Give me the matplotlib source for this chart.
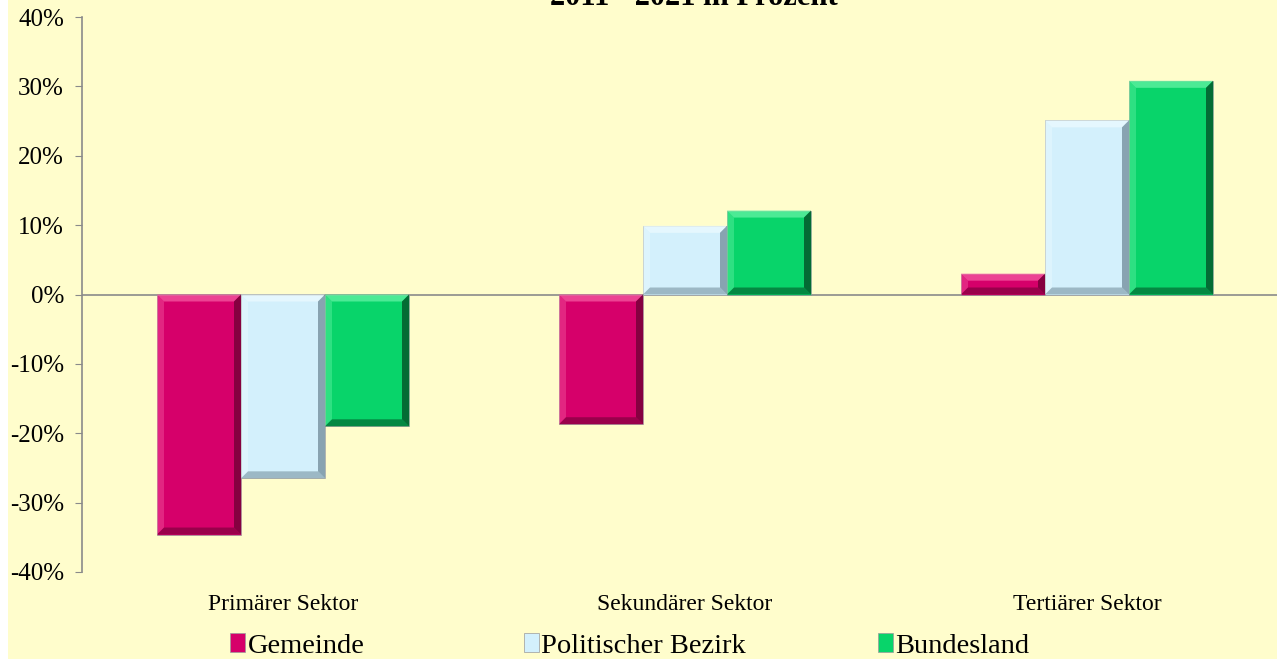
import matplotlib
matplotlib.use("Agg")
import matplotlib.pyplot as plt
from matplotlib.patches import Polygon, Rectangle
import numpy as np

categories = ["Primärer Sektor", "Sekundärer Sektor", "Tertiärer Sektor"]
series_names = ["Gemeinde", "Politischer Bezirk", "Bundesland"]
gemeinde = [-34.6, -18.7, 3.0]
politischer_bezirk = [-26.5, 9.9, 25.1]
bundesland = [-19.0, 12.1, 30.8]
yticks = [-40, -30, -20, -10, 0, 10, 20, 30, 40]
title_text = "2011 - 2021 in Prozent"

colors = ["#D6006A", "#D3F0FC", "#08D46A"]
light = ["#F2559E", "#EAFAFF", "#5EF0A0"]
dark = ["#6A0033", "#6F8A98", "#024A22"]
bg = "#FFFDCC"

W, H = 1277, 659
fig = plt.figure(figsize=(W / 100, H / 100), dpi=100)
fig.patch.set_facecolor("white")
fig.add_artist(Rectangle((8 / W, 0), 1, 1, transform=fig.transFigure,
                         facecolor=bg, edgecolor="none", zorder=-10))

left = 82 / W
bottom = 1 - 572 / H
top = 1 - 17 / H
ax = fig.add_axes([left, bottom, 1206 / W, top - bottom])
ax.set_facecolor(bg)
ax.patch.set_alpha(0)

x = np.arange(len(categories))
bw = 84 / 402
data = [gemeinde, politischer_bezirk, bundesland]
containers = []
for i, vals in enumerate(data):
    c = ax.bar(x + (i - 1) * bw, vals, width=bw, color=colors[i],
               edgecolor="#9A9A9A", linewidth=0.5, label=series_names[i], zorder=3)
    containers.append(c)

ax.set_xlim(-0.5, 2.5)
ax.set_ylim(-40, 40)

# bevel effect derived from bar geometry
px_x = 1 / 402.0
px_y = 80 / 555.0
bv = 7
for i, c in enumerate(containers):
    for r in c.patches:
        x0, w = r.get_x(), r.get_width()
        y0, h = r.get_y(), r.get_height()
        yb, yt = min(y0, y0 + h), max(y0, y0 + h)
        x1 = x0 + w
        dx = bv * px_x
        dy = min(bv * px_y, (yt - yb) / 2)
        ax.add_patch(Polygon([(x0, yt), (x1, yt), (x1 - dx, yt - dy), (x0 + dx, yt - dy)],
                             closed=True, facecolor=light[i], edgecolor="none", zorder=4, alpha=0.8))
        ax.add_patch(Polygon([(x0, yb), (x0, yt), (x0 + dx, yt - dy), (x0 + dx, yb + dy)],
                             closed=True, facecolor=light[i], edgecolor="none", zorder=4, alpha=0.45))
        ax.add_patch(Polygon([(x1, yb), (x1, yt), (x1 - dx, yt - dy), (x1 - dx, yb + dy)],
                             closed=True, facecolor=dark[i], edgecolor="none", zorder=4, alpha=0.75))
        ax.add_patch(Polygon([(x0, yb), (x1, yb), (x1 - dx, yb + dy), (x0 + dx, yb + dy)],
                             closed=True, facecolor=dark[i], edgecolor="none", zorder=4, alpha=0.55))

ax.axhline(0, color="#8A8A8A", lw=1.2, zorder=2)

for s in ["top", "right", "bottom"]:
    ax.spines[s].set_visible(False)
ax.spines["left"].set_color("#8A8A8A")
ax.spines["left"].set_linewidth(1.2)

serif = ["Liberation Serif", "DejaVu Serif"]
ax.set_yticks(yticks)
ax.set_yticklabels([f"{v}%" for v in yticks], fontfamily=serif, fontsize=18)
ax.tick_params(axis="y", length=5, color="#8A8A8A", pad=8)
ax.set_xticks(x)
ax.set_xticklabels(categories, fontfamily=serif, fontsize=17)
ax.tick_params(axis="x", length=0, pad=16)

fig.text(694 / W, 1 - 5 / H, title_text, ha="center", va="baseline",
         fontfamily=serif, fontsize=22, fontweight="bold")

legend_x = [229, 523, 877]
for i, c in enumerate(containers):
    fig.legend([c], [series_names[i]], loc="center left",
               bbox_to_anchor=(legend_x[i] / W - 0.019, 1 - 646 / H),
               frameon=False, prop={"family": serif, "size": 20.5},
               handlelength=0.5, handleheight=0.6, handletextpad=0.1)

fig.savefig("out.png", dpi=100, facecolor=fig.get_facecolor())
